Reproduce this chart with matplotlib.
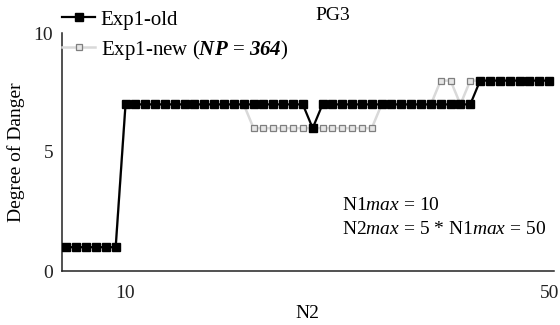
import matplotlib
matplotlib.use('Agg')
import matplotlib.pyplot as plt
from matplotlib.lines import Line2D

plt.rcParams['font.family'] = ['Liberation Serif', 'DejaVu Serif']
plt.rcParams['mathtext.fontset'] = 'custom'
plt.rcParams['mathtext.rm'] = 'Liberation Serif'
plt.rcParams['mathtext.it'] = 'Liberation Serif:italic'
plt.rcParams['mathtext.bf'] = 'Liberation Serif:bold'
plt.rcParams['mathtext.bfit'] = 'Liberation Serif:italic:bold'

# danger level per run along N2 (50 runs)
EXP1_OLD = [1, 1, 1, 1, 1, 1,
            7, 7, 7, 7, 7, 7, 7, 7, 7, 7, 7, 7, 7, 7, 7, 7, 7, 7, 7,
            6,
            7, 7, 7, 7, 7, 7, 7, 7, 7, 7, 7, 7, 7, 7, 7, 7,
            8, 8, 8, 8, 8, 8, 8, 8]
EXP1_NEW = [1, 1, 1, 1, 1, 1,
            7, 7, 7, 7, 7, 7, 7, 7, 7, 7, 7, 7, 7,
            6, 6, 6, 6, 6, 6, 6, 6, 6, 6, 6, 6, 6,
            7, 7, 7, 7, 7, 7,
            8, 8, 7,
            8, 8, 8, 8, 8, 8, 8, 8, 8]

# only two runs carry a printed N2 label
TICK_IDX = [6, 49]
TICK_LABELS = ['10', '50']
Y_TICKS = [0, 5, 10]

W, H = 560, 325
fig = plt.figure(figsize=(W / 100, H / 100), dpi=100)
ax = fig.add_axes([61.5 / W, 1 - 271 / H, (554 - 61.5) / W, (271 - 33) / H])

x = list(range(len(EXP1_OLD)))
ax.plot(x, EXP1_NEW, color='#d9d9d9', linewidth=1.8, marker='s', markersize=5,
        markerfacecolor='#e6e6e6', markeredgecolor='#7f7f7f', markeredgewidth=0.9,
        zorder=2)
ax.plot(x, EXP1_OLD, color='black', linewidth=1.6, marker='s', markersize=5.8,
        markerfacecolor='black', markeredgecolor='black', zorder=3)

ax.set_xlim(-0.5, len(x) - 0.5)
ax.set_ylim(0, 10)
ax.set_xticks(TICK_IDX)
ax.set_xticklabels(TICK_LABELS)
ax.set_yticks(Y_TICKS)
ax.tick_params(length=0, labelsize=14, colors='#222222')
ax.tick_params(axis='x', pad=10)
ax.tick_params(axis='y', pad=6)
for side in ('top', 'right'):
    ax.spines[side].set_visible(False)
for side in ('left', 'bottom'):
    ax.spines[side].set_linewidth(1.1)
    ax.spines[side].set_color('#222222')

ax.set_xlabel('N2', fontsize=14, labelpad=2)
ax.set_ylabel('Degree of Danger', fontsize=14, labelpad=6)

fig.text(333 / W, 1 - 15 / H, 'PG3', fontsize=14, ha='center', va='center')

handles = [
    Line2D([], [], color='black', linewidth=1.6, marker='s', markersize=5.8),
    Line2D([], [], color='#d9d9d9', linewidth=1.8, marker='s', markersize=5,
           markerfacecolor='#e6e6e6', markeredgecolor='#7f7f7f',
           markeredgewidth=0.9),
]
labels = ['Exp1-old',
          r'Exp1-new ($\mathbfit{NP}$ = $\mathbfit{364}$)']
fig.legend(handles, labels, loc='upper left', bbox_to_anchor=(62 / W, 1 - 10 / H),
           frameon=False, fontsize=15, handlelength=1.6, handletextpad=0.25,
           borderpad=0, borderaxespad=0, labelspacing=0.38)

fig.text(342 / W, 1 - 206 / H, r'N1$\mathit{max}$ = 10', fontsize=14,
         ha='left', va='center')
fig.text(342 / W, 1 - 230 / H, r'N2$\mathit{max}$ = 5 * N1$\mathit{max}$ = 50',
         fontsize=14, ha='left', va='center')

fig.savefig('out.png', dpi=100)
